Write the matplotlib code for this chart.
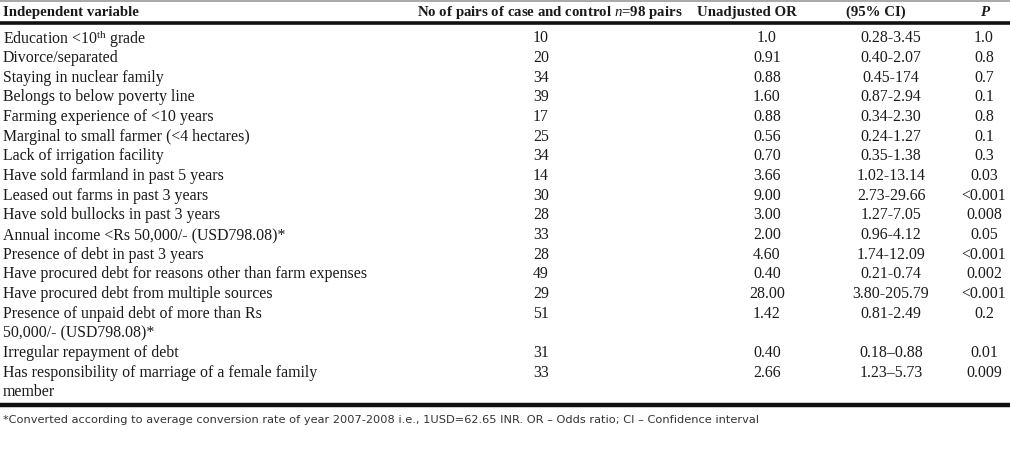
import matplotlib
matplotlib.use("Agg")
import matplotlib.pyplot as plt

plt.rcParams['mathtext.fontset'] = 'custom'
plt.rcParams['mathtext.rm'] = 'Liberation Serif'
plt.rcParams['mathtext.it'] = 'Liberation Serif:italic'
plt.rcParams['mathtext.bf'] = 'Liberation Serif:bold'

# Table content
headers = ["Independent variable", r"No of pairs of case and control $\mathit{n}$=98 pairs",
           "Unadjusted OR", "(95% CI)", "P"]
variables = [
    r"Education <10$^{\mathrm{th}}$ grade",
    "Divorce/separated",
    "Staying in nuclear family",
    "Belongs to below poverty line",
    "Farming experience of <10 years",
    "Marginal to small farmer (<4 hectares)",
    "Lack of irrigation facility",
    "Have sold farmland in past 5 years",
    "Leased out farms in past 3 years",
    "Have sold bullocks in past 3 years",
    "Annual income <Rs 50,000/- (USD798.08)*",
    "Presence of debt in past 3 years",
    "Have procured debt for reasons other than farm expenses",
    "Have procured debt from multiple sources",
    "Presence of unpaid debt of more than Rs\n50,000/- (USD798.08)*",
    "Irregular repayment of debt",
    "Has responsibility of marriage of a female family\nmember",
]
n_pairs = ["10", "20", "34", "39", "17", "25", "34", "14", "30", "28", "33",
           "28", "49", "29", "51", "31", "33"]
odds = ["1.0", "0.91", "0.88", "1.60", "0.88", "0.56", "0.70", "3.66", "9.00",
        "3.00", "2.00", "4.60", "0.40", "28.00", "1.42", "0.40", "2.66"]
ci = ["0.28-3.45", "0.40-2.07", "0.45-174", "0.87-2.94", "0.34-2.30", "0.24-1.27",
      "0.35-1.38", "1.02-13.14", "2.73-29.66", "1.27-7.05", "0.96-4.12", "1.74-12.09",
      "0.21-0.74", "3.80-205.79", "0.81-2.49", "0.18\u20130.88", "1.23\u20135.73"]
p_vals = ["1.0", "0.8", "0.7", "0.1", "0.8", "0.1", "0.3", "0.03", "<0.001", "0.008",
          "0.05", "<0.001", "0.002", "<0.001", "0.2", "0.01", "0.009"]
footnote = ("*Converted according to average conversion rate of year 2007-2008 i.e., "
            "1USD=62.65 INR. OR \u2013 Odds ratio; CI \u2013 Confidence interval")

W, H = 1010, 469
fig = plt.figure(figsize=(W / 100, H / 100), dpi=100)
ax = fig.add_axes([0, 0, 1, 1])
ax.set_xlim(0, W)
ax.set_ylim(H, 0)
ax.axis('off')

serif = 'Liberation Serif'
fs = 11.4
hfs = 10.7
col = '#1a1a1a'

# rules
ax.plot([0, W], [1.5, 1.5], color='#999999', lw=1.2)
ax.plot([0, W], [23.5, 23.5], color='#111111', lw=2.6)
ax.plot([0, W], [405.5, 405.5], color='#111111', lw=3.2)

# header
hy = 12.5
ax.text(3, hy, headers[0], family=serif, fontsize=hfs, fontweight='bold', ha='left', va='center', color=col)
ax.text(550, hy, headers[1], family=serif, fontsize=hfs, fontweight='bold', ha='center', va='center', color=col)
ax.text(747, hy, headers[2], family=serif, fontsize=hfs, fontweight='bold', ha='center', va='center', color=col)
ax.text(876, hy, headers[3], family=serif, fontsize=hfs, fontweight='bold', ha='center', va='center', color=col)
ax.text(985, hy, headers[4], family=serif, fontsize=hfs, fontweight='bold', fontstyle='italic',
        ha='center', va='center', color=col)

# body rows
y0, step = 38.5, 19.65
line = 0
for var, n, o, c, p in zip(variables, n_pairs, odds, ci, p_vals):
    y = y0 + line * step
    for k, part in enumerate(var.split("\n")):
        ax.text(3, y + k * step, part, family=serif, fontsize=fs, ha='left', va='center', color=col)
    ax.text(541, y, n, family=serif, fontsize=fs, ha='center', va='center', color=col)
    ax.text(767, y, o, family=serif, fontsize=fs, ha='center', va='center', color=col)
    ax.text(891, y, c, family=serif, fontsize=fs, ha='center', va='center', color=col)
    ax.text(984, y, p, family=serif, fontsize=fs, ha='center', va='center', color=col)
    line += len(var.split("\n"))

ax.text(3, 420, footnote, family='DejaVu Sans', fontsize=8.2, ha='left', va='center', color='#333333')

fig.savefig('out.png', dpi=100)
